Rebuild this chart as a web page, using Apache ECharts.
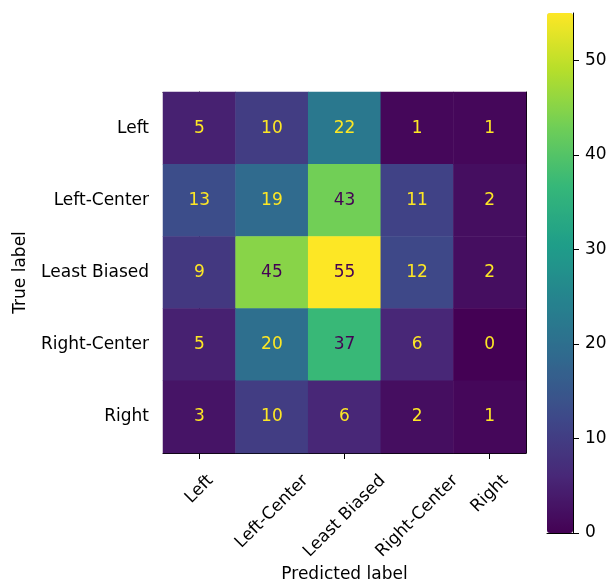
<!DOCTYPE html>
<html>
<head>
<meta charset="utf-8">
<script src="https://cdn.jsdelivr.net/npm/echarts@6/dist/echarts.min.js"></script>
<style>
  html, body { margin: 0; padding: 0; background: #fff; }
  #container { width: 611px; height: 582px; }
</style>
</head>
<body>
<div id="container"></div>
<script>
var trueLabels = ['Left', 'Left-Center', 'Least Biased', 'Right-Center', 'Right'];
var predictedLabels = ['Left', 'Left-Center', 'Least Biased', 'Right-Center', 'Right'];

// rows = true label, columns = predicted label
var countLeft = [5, 10, 22, 1, 1];
var countLeftCenter = [13, 19, 43, 11, 2];
var countLeastBiased = [9, 45, 55, 12, 2];
var countRightCenter = [5, 20, 37, 6, 0];
var countRight = [3, 10, 6, 2, 1];

var colorbarTicks = [0, 10, 20, 30, 40, 50];

var viridis = ['#440154', '#482878', '#3e4989', '#31688e', '#26828e',
               '#1f9e89', '#35b779', '#6ece58', '#b5de2b', '#fde725'];

var FONT = 'DejaVu Sans';
var FS = 17;
var PLOT_W = 363;

var rows = [countLeft, countLeftCenter, countLeastBiased, countRightCenter, countRight];
var vMin = 0;
var vMax = 55;
var threshold = (vMin + vMax) / 2;

var cells = [];
rows.forEach(function (row, r) {
    row.forEach(function (v, c) {
        cells.push({
            value: [c, r, v],
            label: { color: v > threshold ? viridis[0] : viridis[viridis.length - 1] }
        });
    });
});

// matplotlib centres a rotated label under its tick; echarts anchors the label end.
// so put each label anchor a bit right of its tick (on a helper value axis).
var ctx = document.createElement('canvas').getContext('2d');
ctx.font = FS + 'px ' + FONT;
var cellW = PLOT_W / predictedLabels.length;
var labelPos = predictedLabels.map(function (name, i) {
    return i + 0.354 * ctx.measureText(name).width / cellW;
});

var dom = document.getElementById('container');
var myChart = echarts.init(dom, null, { renderer: 'canvas' });

var option = {
    animation: false,
    backgroundColor: '#fff',
    textStyle: { fontFamily: FONT },
    grid: [
        { left: 163, top: 92, width: PLOT_W, height: 361, outerBoundsMode: 'none', containLabel: false },
        { left: 547, top: 13, width: 26, height: 520, outerBoundsMode: 'none', containLabel: false }
    ],
    xAxis: [
        {
            type: 'category', gridIndex: 0, data: predictedLabels, position: 'bottom',
            name: 'Predicted label', nameLocation: 'middle', nameGap: 113,
            nameTextStyle: { fontSize: FS, color: '#000', fontFamily: FONT },
            axisLine: { show: true, lineStyle: { color: '#000', width: 1 } },
            axisTick: { show: true, alignWithLabel: true, length: 6, lineStyle: { color: '#000' } },
            axisLabel: { show: false },
            splitLine: { show: false }
        },
        {
            type: 'category', gridIndex: 0, data: predictedLabels, position: 'top',
            axisLine: { show: true, lineStyle: { color: '#000', width: 1 } },
            axisTick: { show: false }, axisLabel: { show: false }, splitLine: { show: false }
        },
        {
            type: 'category', gridIndex: 1, data: [''],
            axisLine: { show: true, onZero: false, lineStyle: { color: '#000', width: 1 } },
            axisTick: { show: false }, axisLabel: { show: false }, splitLine: { show: false }
        },
        {
            // tick labels only
            type: 'value', gridIndex: 0, position: 'bottom', offset: 0,
            min: -0.5, max: predictedLabels.length - 0.5,
            axisLine: { show: false }, axisTick: { show: false }, splitLine: { show: false },
            axisLabel: {
                rotate: 45, margin: 25, fontSize: FS, color: '#000', fontFamily: FONT,
                customValues: labelPos, hideOverlap: false,
                showMinLabel: true, showMaxLabel: true,
                formatter: function (v) { return predictedLabels[Math.floor(v + 1e-6)]; }
            }
        }
    ],
    yAxis: [
        {
            type: 'category', gridIndex: 0, data: trueLabels, inverse: true, position: 'left',
            name: 'True label', nameLocation: 'middle', nameGap: 134, nameRotate: 90,
            nameTextStyle: { fontSize: FS, color: '#000', fontFamily: FONT },
            axisLine: { show: true, lineStyle: { color: '#000', width: 1 } },
            axisTick: { show: true, alignWithLabel: true, length: 6, lineStyle: { color: '#000' } },
            axisLabel: { margin: 14, fontSize: FS, color: '#000', fontFamily: FONT, interval: 0 },
            splitLine: { show: false }
        },
        {
            type: 'category', gridIndex: 0, data: trueLabels, inverse: true, position: 'right',
            axisLine: { show: true, lineStyle: { color: '#000', width: 1 } },
            axisTick: { show: false }, axisLabel: { show: false }, splitLine: { show: false }
        },
        {
            type: 'value', gridIndex: 1, position: 'right', min: vMin, max: vMax,
            interval: colorbarTicks[1] - colorbarTicks[0],
            axisLine: { show: true, lineStyle: { color: '#000', width: 1 } },
            axisTick: { show: true, length: 6, lineStyle: { color: '#000' } },
            axisLabel: {
                margin: 12, fontSize: FS, color: '#000', fontFamily: FONT,
                showMaxLabel: false,
                formatter: function (v) { return colorbarTicks.indexOf(v) >= 0 ? String(v) : ''; }
            },
            splitLine: { show: false }
        }
    ],
    visualMap: {
        type: 'continuous',
        seriesIndex: 0,
        min: vMin,
        max: vMax,
        calculable: false,
        orient: 'vertical',
        left: 547,
        top: 13,
        itemWidth: 26,
        itemHeight: 520,
        padding: 0,
        text: null,
        inRange: { color: viridis },
        z: 1
    },
    series: [
        {
            type: 'heatmap',
            xAxisIndex: 0,
            yAxisIndex: 0,
            data: cells,
            label: { show: true, fontSize: FS, fontFamily: FONT },
            itemStyle: { borderWidth: 0 },
            emphasis: { disabled: true }
        },
        {
            type: 'scatter',
            xAxisIndex: 2,
            yAxisIndex: 2,
            data: [],
            silent: true
        }
    ]
};

myChart.setOption(option);
</script>
</body>
</html>
